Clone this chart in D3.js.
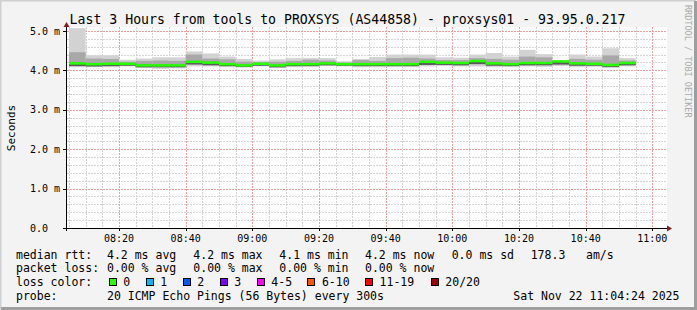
<!DOCTYPE html>
<meta charset="utf-8">
<style>
  body { margin: 0; background: #fff; }
  svg { display: block; }
  text { font-family: "DejaVu Sans Mono", monospace; fill: #000; }
</style>
<svg width="697" height="310"></svg>
<script src="https://d3js.org/d3.v7.min.js"></script>
<script>

// 5 minute steps, values in ms (one entry per step, 08:10 ... 10:55)
var rttMax    = [5.07,4.38,4.38,4.27,4.30,4.33,4.33,4.48,4.43,4.35,4.29,4.25,4.28,4.31,4.31,4.31,4.23,4.29,4.34,4.40,4.40,4.40,4.33,4.32,4.40,4.44,4.35,4.52,4.41,4.24,4.40,4.35,4.56,4.31];
var rttUpper  = [4.46,4.30,4.29,4.22,4.24,4.25,4.24,4.40,4.30,4.28,4.22,4.21,4.22,4.24,4.27,4.25,4.20,4.26,4.24,4.31,4.32,4.30,4.26,4.26,4.31,4.29,4.27,4.35,4.33,4.22,4.29,4.27,4.38,4.25];
var rttMedian = [4.17,4.15,4.16,4.16,4.12,4.12,4.12,4.21,4.19,4.15,4.12,4.16,4.12,4.15,4.15,4.17,4.15,4.15,4.15,4.15,4.15,4.21,4.19,4.18,4.23,4.17,4.15,4.18,4.18,4.22,4.17,4.16,4.13,4.18];
var rttLower  = [4.12,4.11,4.12,4.13,4.09,4.09,4.09,4.16,4.14,4.12,4.10,4.13,4.09,4.12,4.12,4.14,4.13,4.12,4.12,4.12,4.12,4.15,4.15,4.14,4.17,4.13,4.12,4.14,4.14,4.16,4.13,4.13,4.10,4.14];
var rttMin    = [4.08,4.08,4.08,4.10,4.06,4.04,4.05,4.10,4.10,4.08,4.07,4.10,4.06,4.08,4.09,4.11,4.10,4.08,4.08,4.09,4.08,4.10,4.11,4.10,4.10,4.08,4.09,4.10,4.09,4.11,4.08,4.09,4.06,4.10];

var yTicks = [0, 1, 2, 3, 4, 5];
var yTickLabels = ["0.0", "1.0 m", "2.0 m", "3.0 m", "4.0 m", "5.0 m"];

var lossLabels = ["0", "1", "2", "3", "4-5", "6-10", "11-19", "20/20"];
var lossColors = ["#26ff00", "#00b8ff", "#0059ff", "#7e00ff", "#ff00ff", "#ff5500", "#ff0000", "#a10000"];

var titleText = "Last 3 Hours from tools to PROXSYS (AS44858) - proxsys01 - 93.95.0.217";

var svg = d3.select("svg");

// frame
svg.append("rect").attr("width", 697).attr("height", 310).attr("fill", "#f3f3f3");
svg.append("path").attr("d", "M0.5,309 V0.5 H696").attr("stroke", "#cfcfcf").attr("stroke-width", 2).attr("fill", "none");
svg.append("path").attr("d", "M1,308.5 H695.5 V1").attr("stroke", "#9e9e9e").attr("stroke-width", 3).attr("fill", "none");

var x = d3.scaleTime()
    .domain([new Date(2025, 10, 22, 8, 4, 24), new Date(2025, 10, 22, 11, 4, 24)])
    .range([67, 667]);
var y = d3.scaleLinear()
    .domain([0, 5.1])
    .range([228, 27]);

// canvas
svg.append("rect")
    .attr("x", 67).attr("y", 27)
    .attr("width", 600).attr("height", 201)
    .attr("fill", "#fff");

var grid = svg.append("g").attr("fill", "none").attr("stroke-dasharray", "2,1");

// minor grid
grid.selectAll(".hmin")
    .data(d3.range(0.2, 5.05, 0.2).filter(function (v) { return Math.abs(v - Math.round(v)) > 0.01; }))
    .enter().append("line")
    .attr("x1", 67).attr("x2", 667)
    .attr("y1", function (d) { return Math.round(y(d)) + 0.5; })
    .attr("y2", function (d) { return Math.round(y(d)) + 0.5; })
    .attr("stroke", "#d4d4d4");

grid.selectAll(".vmin")
    .data(x.ticks(d3.timeMinute.every(5)))
    .enter().append("line")
    .attr("x1", function (d) { return Math.round(x(d)) + 0.5; })
    .attr("x2", function (d) { return Math.round(x(d)) + 0.5; })
    .attr("y1", 27).attr("y2", 228)
    .attr("stroke", "#d4d4d4");

// major grid
grid.selectAll(".hmaj")
    .data(yTicks.slice(1))
    .enter().append("line")
    .attr("x1", 67).attr("x2", 667)
    .attr("y1", function (d) { return Math.round(y(d)) + 0.5; })
    .attr("y2", function (d) { return Math.round(y(d)) + 0.5; })
    .attr("stroke", "#f0a0a0");

grid.selectAll(".vmaj")
    .data(x.ticks(d3.timeMinute.every(20)))
    .enter().append("line")
    .attr("x1", function (d) { return Math.round(x(d)) + 0.5; })
    .attr("x2", function (d) { return Math.round(x(d)) + 0.5; })
    .attr("y1", 27).attr("y2", 228)
    .attr("stroke", "#f0a0a0");

// smoke
var bars = rttMedian.map(function (m, i) {
    var end = new Date(2025, 10, 22, 8, 10 + 5 * i);
    return {
        x0: Math.max(x(d3.timeMinute.offset(end, -5)), 67),
        x1: x(end),
        max: rttMax[i], upper: rttUpper[i], median: m, lower: rttLower[i], min: rttMin[i]
    };
});

var smoke = svg.append("g");
smoke.selectAll(".outer")
    .data(bars).enter().append("rect")
    .attr("x", function (d) { return d.x0; })
    .attr("width", function (d) { return d.x1 - d.x0; })
    .attr("y", function (d) { return y(d.max); })
    .attr("height", function (d) { return y(d.min) - y(d.max); })
    .attr("fill", "#d2d2d2");

smoke.selectAll(".mid")
    .data(bars).enter().append("rect")
    .attr("x", function (d) { return d.x0; })
    .attr("width", function (d) { return d.x1 - d.x0; })
    .attr("y", function (d) { return y(d.upper); })
    .attr("height", function (d) { return y(d.lower) - y(d.upper); })
    .attr("fill", "#a8a8a8");

smoke.selectAll(".inner")
    .data(bars).enter().append("rect")
    .attr("x", function (d) { return d.x0; })
    .attr("width", function (d) { return d.x1 - d.x0; })
    .attr("y", function (d) { return y(d.median) - 1; })
    .attr("height", function (d) { return y(d.lower) - y(d.median) + 1.5; })
    .attr("fill", "#5a5a5a");

// median line
smoke.selectAll(".med")
    .data(bars).enter().append("rect")
    .attr("x", function (d) { return d.x0; })
    .attr("width", function (d) { return d.x1 - d.x0; })
    .attr("y", function (d) { return y(d.median) - 1.5; })
    .attr("height", 2.5)
    .attr("fill", lossColors[0]);

// axes
var axis = svg.append("g");
axis.append("line").attr("x1", 63).attr("x2", 668).attr("y1", 228.5).attr("y2", 228.5).attr("stroke", "#000");
axis.append("line").attr("x1", 66.5).attr("x2", 66.5).attr("y1", 231).attr("y2", 26).attr("stroke", "#000");
axis.append("path").attr("d", "M667,225.5 L672,228.5 L667,231.5 Z").attr("fill", "#8b1a1a");
axis.append("path").attr("d", "M63.5,27 L66.5,22 L69.5,27 Z").attr("fill", "#8b1a1a");

axis.selectAll(".yt")
    .data(yTicks).enter().append("line")
    .attr("x1", 63).attr("x2", 66)
    .attr("y1", function (d) { return Math.round(y(d)) + 0.5; })
    .attr("y2", function (d) { return Math.round(y(d)) + 0.5; })
    .attr("stroke", "#000");

axis.selectAll(".xt")
    .data(x.ticks(d3.timeMinute.every(20))).enter().append("line")
    .attr("x1", function (d) { return Math.round(x(d)) + 0.5; })
    .attr("x2", function (d) { return Math.round(x(d)) + 0.5; })
    .attr("y1", 229).attr("y2", 231)
    .attr("stroke", "#000");

svg.selectAll(".ylab")
    .data(yTicks).enter().append("text")
    .attr("x", 30)
    .attr("y", function (d) { return y(d) + 3.7; })
    .style("font-size", "10px")
    .text(function (d, i) { return yTickLabels[i]; });

svg.selectAll(".xlab")
    .data(x.ticks(d3.timeMinute.every(20))).enter().append("text")
    .attr("x", function (d) { return x(d); })
    .attr("y", 242)
    .attr("text-anchor", "middle")
    .style("font-size", "10px")
    .text(d3.timeFormat("%H:%M"));

// title and side texts
svg.append("text")
    .attr("x", 347.5).attr("y", 24)
    .attr("text-anchor", "middle")
    .style("font-size", "13.2px")
    .text(titleText);

svg.append("text")
    .attr("transform", "translate(15,128) rotate(-90)")
    .attr("text-anchor", "middle")
    .style("font-size", "11px")
    .text("Seconds");

svg.append("text")
    .attr("transform", "translate(685,5) rotate(90)")
    .style("font-size", "8.5px")
    .style("fill", "#aaa")
    .text("RRDTOOL / TOBI OETIKER");

// legend
var legend = svg.append("g").style("font-size", "11.5px").attr("xml:space", "preserve");
function put(txt, px, py) {
    legend.append("text").attr("x", px).attr("y", py).text(txt);
}
var rows = [258.5, 272, 286, 299.5];
put("median rtt:", 16, rows[0]);
put("4.2 ms avg", 107, rows[0]);
put("4.2 ms max", 193.3, rows[0]);
put("4.1 ms min", 279.3, rows[0]);
put("4.2 ms now", 365, rows[0]);
put("0.0 ms sd", 451.7, rows[0]);
put("178.3", 530.7, rows[0]);
put("am/s", 586, rows[0]);

put("packet loss:", 16, rows[1]);
put("0.00 % avg", 107, rows[1]);
put("0.00 % max", 193.3, rows[1]);
put("0.00 % min", 279.3, rows[1]);
put("0.00 % now", 365, rows[1]);

put("loss color:", 16, rows[2]);
var boxX = [108.7, 145.7, 182.7, 219.7, 256.7, 307.3, 365, 430.7];
legend.selectAll(".box")
    .data(lossLabels).enter().append("rect")
    .attr("x", function (d, i) { return Math.round(boxX[i]) + 0.5; })
    .attr("y", 278.5)
    .attr("width", 7).attr("height", 7)
    .attr("fill", function (d, i) { return lossColors[i]; })
    .attr("stroke", "#000");
legend.selectAll(".boxlab")
    .data(lossLabels).enter().append("text")
    .attr("x", function (d, i) { return boxX[i] + 14.6; })
    .attr("y", rows[2])
    .text(function (d) { return d; });

put("probe:", 16, rows[3]);
put("20 ICMP Echo Pings (56 Bytes) every 300s", 107, rows[3]);
put("Sat Nov 22 11:04:24 2025", 513.3, rows[3]);

</script>
